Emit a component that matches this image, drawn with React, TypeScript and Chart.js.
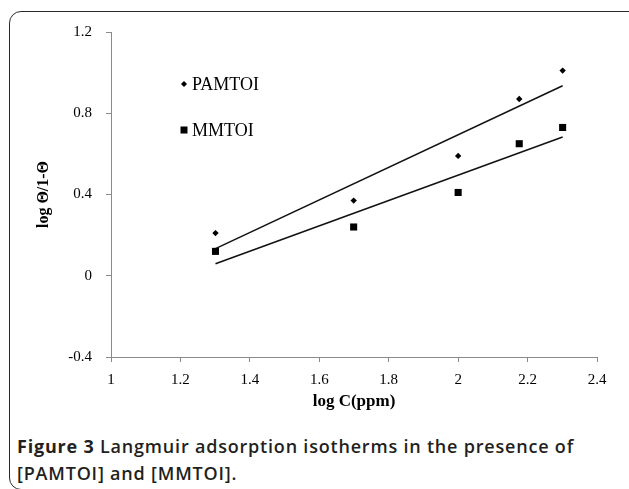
import React, { useEffect, useRef } from 'react';
import { Chart, registerables } from 'chart.js';

Chart.register(...registerables);

// ---- data ----
const logC = [1.301, 1.699, 2.0, 2.176, 2.301];
const pamtoiValues = [0.21, 0.37, 0.59, 0.87, 1.01];
const mmtoiValues = [0.12, 0.24, 0.41, 0.65, 0.73];
const seriesNames = ['PAMTOI', 'MMTOI'];
const xRange = [1, 2.4];
const xStep = 0.2;
const yRange = [-0.4, 1.2];
const yStep = 0.4;
const xAxisTitle = 'log C(ppm)';
const yAxisTitle = 'log \u0398/1-\u0398';
const captionBold = 'Figure 3';
const captionRest = ' Langmuir adsorption isotherms in the presence of';
const captionLine2 = '[PAMTOI] and [MMTOI].';

function linearFit(xs: number[], ys: number[]) {
  const n = xs.length;
  const mx = xs.reduce((a, b) => a + b, 0) / n;
  const my = ys.reduce((a, b) => a + b, 0) / n;
  let sxy = 0;
  let sxx = 0;
  for (let i = 0; i < n; i++) {
    sxy += (xs[i] - mx) * (ys[i] - my);
    sxx += (xs[i] - mx) * (xs[i] - mx);
  }
  const slope = sxy / sxx;
  const icpt = my - slope * mx;
  return (x: number) => icpt + slope * x;
}

function trend(ys: number[]) {
  const f = linearFit(logC, ys);
  const x0 = logC[0];
  const x1 = logC[logC.length - 1];
  return [
    { x: x0, y: f(x0) },
    { x: x1, y: f(x1) },
  ];
}

const SERIF = '"Liberation Serif", "Times New Roman", serif';

const insideLegend = {
  id: 'insideLegend',
  afterDraw(chart: any) {
    const { ctx, chartArea } = chart;
    const items = [
      { label: seriesNames[0], style: 'diamond' },
      { label: seriesNames[1], style: 'square' },
    ];
    ctx.save();
    ctx.font = `18px ${SERIF}`;
    ctx.fillStyle = '#000';
    ctx.textBaseline = 'middle';
    items.forEach((it, i) => {
      const mx = chartArea.left + 73;
      const my = chartArea.top + 52 + i * 46;
      ctx.beginPath();
      if (it.style === 'diamond') {
        ctx.moveTo(mx - 3, my);
        ctx.lineTo(mx, my - 3);
        ctx.lineTo(mx + 3, my);
        ctx.lineTo(mx, my + 3);
        ctx.closePath();
      } else {
        ctx.rect(mx - 3.5, my - 3.5, 7, 7);
      }
      ctx.fill();
      ctx.fillText(it.label, mx + 8, my + 1);
    });
    ctx.restore();
  },
};

function fmt(v: number) {
  return String(Number(v.toFixed(1)));
}

export default function App() {
  const ref = useRef<HTMLCanvasElement | null>(null);

  useEffect(() => {
    if (!ref.current) return;
    const axisColor = '#8a8a8a';
    const chart = new Chart(ref.current, {
      type: 'scatter',
      data: {
        datasets: [
          {
            label: seriesNames[0],
            data: logC.map((x, i) => ({ x, y: pamtoiValues[i] })),
            pointStyle: 'rectRot',
            pointRadius: 3.2,
            pointBackgroundColor: '#000',
            pointBorderColor: '#000',
            pointBorderWidth: 0,
            showLine: false,
          },
          {
            label: seriesNames[1],
            data: logC.map((x, i) => ({ x, y: mmtoiValues[i] })),
            pointStyle: 'rect',
            pointRadius: 5,
            pointBackgroundColor: '#000',
            pointBorderColor: '#000',
            pointBorderWidth: 0,
            showLine: false,
          },
          {
            label: seriesNames[0] + ' fit',
            data: trend(pamtoiValues),
            showLine: true,
            pointRadius: 0,
            borderColor: '#111',
            borderWidth: 1.5,
          },
          {
            label: seriesNames[1] + ' fit',
            data: trend(mmtoiValues),
            showLine: true,
            pointRadius: 0,
            borderColor: '#111',
            borderWidth: 1.5,
          },
        ],
      },
      options: {
        animation: false,
        responsive: false,
        maintainAspectRatio: false,
        events: [],
        layout: { padding: { left: 30, right: 32, top: 32, bottom: 0 } },
        plugins: {
          legend: { display: false },
          tooltip: { enabled: false },
        },
        scales: {
          x: {
            type: 'linear',
            min: xRange[0],
            max: xRange[1],
            afterFit: (s: any) => {
              s.height = 63;
            },
            ticks: {
              stepSize: xStep,
              padding: 9,
              color: '#000',
              font: { family: SERIF, size: 15 },
              callback: (v: any) => fmt(Number(v)),
            },
            grid: {
              display: true,
              drawOnChartArea: false,
              drawTicks: true,
              tickLength: 5,
              color: axisColor,
            },
            border: { display: true, color: axisColor, width: 1 },
            title: {
              display: true,
              text: xAxisTitle,
              color: '#000',
              font: { family: SERIF, size: 17, weight: 'bold' },
              padding: { top: 0, bottom: 8 },
            },
          },
          y: {
            type: 'linear',
            min: yRange[0],
            max: yRange[1],
            afterFit: (s: any) => {
              s.width = 81;
            },
            ticks: {
              stepSize: yStep,
              padding: 14,
              color: '#000',
              font: { family: SERIF, size: 15 },
              callback: (v: any) => fmt(Number(v)),
            },
            grid: {
              display: true,
              drawOnChartArea: false,
              drawTicks: true,
              tickLength: 5,
              color: axisColor,
            },
            border: { display: true, color: axisColor, width: 1 },
            title: {
              display: true,
              text: yAxisTitle,
              color: '#000',
              font: { family: SERIF, size: 16, weight: 'bold' },
              padding: { top: 4, bottom: 0 },
            },
          },
        },
      },
      plugins: [insideLegend],
    } as any);
    return () => chart.destroy();
  }, []);

  return (
    <div
      style={{
        position: 'absolute',
        left: 0,
        top: 0,
        width: 629,
        height: 489,
        overflow: 'hidden',
        background: '#fff',
      }}
    >
      <div
        style={{
          position: 'absolute',
          left: 9,
          top: 11,
          width: 660,
          height: 479,
          border: '1.5px solid #2a2a2a',
          borderRadius: 12,
          boxSizing: 'border-box',
        }}
      />
      <canvas
        ref={ref}
        width={629}
        height={420}
        style={{ position: 'absolute', left: 0, top: 0, width: 629, height: 420 }}
      />
      <div
        style={{
          position: 'absolute',
          left: 17,
          top: 433,
          fontFamily: '"Open Sans", sans-serif',
          fontSize: 18,
          letterSpacing: '0.8px',
          lineHeight: '27px',
          color: '#231f20',
          whiteSpace: 'nowrap',
        }}
      >
        <div>
          <span style={{ fontWeight: 700 }}>{captionBold}</span>
          <span style={{ fontWeight: 600 }}>{captionRest}</span>
        </div>
        <div style={{ fontWeight: 600 }}>{captionLine2}</div>
      </div>
    </div>
  );
}
